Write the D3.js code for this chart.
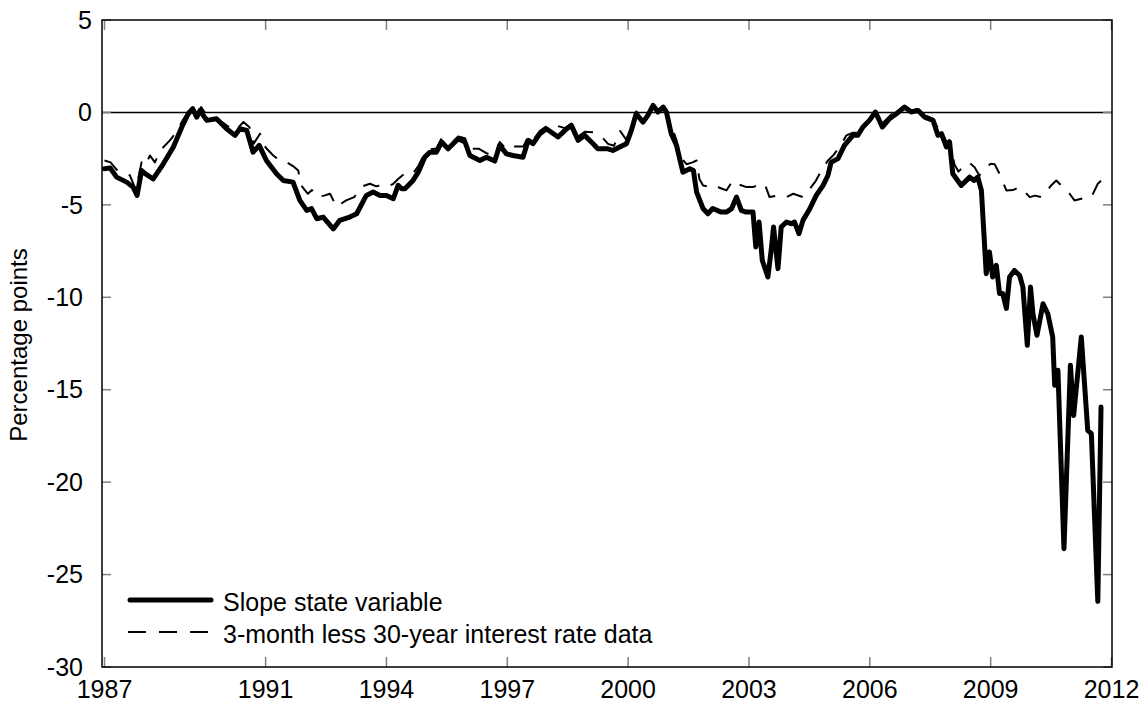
<!DOCTYPE html>
<html>
<head>
<meta charset="utf-8">
<script src="https://cdn.jsdelivr.net/npm/d3@7/dist/d3.min.js"></script>
<style>
  html, body { margin: 0; padding: 0; background: #fff; }
  svg { display: block; }
  text { font-family: "Liberation Sans", Arial, sans-serif; fill: #000; }
</style>
</head>
<body>
<svg id="chart" width="1142" height="702"></svg>
<script>
// ---------- DATA ----------
const slopeYears = [
  1987.0, 1987.14, 1987.3, 1987.55, 1987.71, 1987.81, 1987.92, 1988.0, 1988.21, 1988.46,
  1988.71, 1988.92, 1989.08, 1989.19, 1989.29, 1989.37, 1989.54, 1989.78, 1990.03, 1990.24,
  1990.36, 1990.53, 1990.69, 1990.84, 1991.02, 1991.27, 1991.44, 1991.68, 1991.85, 1992.02,
  1992.14, 1992.27, 1992.43, 1992.68, 1992.84, 1993.09, 1993.26, 1993.5, 1993.67, 1993.84,
  1994.0, 1994.17, 1994.29, 1994.38, 1994.46, 1994.66, 1994.79, 1994.95, 1995.08, 1995.24,
  1995.37, 1995.53, 1995.78, 1995.95, 1996.07, 1996.32, 1996.48, 1996.69, 1996.81, 1996.98,
  1997.14, 1997.39, 1997.52, 1997.64, 1997.81, 1997.97, 1998.26, 1998.43, 1998.59, 1998.76,
  1998.92, 1999.13, 1999.25, 1999.5, 1999.62, 1999.79, 1999.96, 2000.08, 2000.2, 2000.37,
  2000.49, 2000.62, 2000.74, 2000.87, 2000.95, 2001.07, 2001.2, 2001.36, 2001.53, 2001.62,
  2001.7, 2001.86, 2001.98, 2002.1, 2002.31, 2002.44, 2002.57, 2002.69, 2002.81, 2002.93,
  2003.1, 2003.17, 2003.25, 2003.33, 2003.47, 2003.56, 2003.61, 2003.72, 2003.8, 2003.93,
  2004.05, 2004.13, 2004.24, 2004.34, 2004.51, 2004.67, 2004.84, 2004.96, 2005.04, 2005.21,
  2005.37, 2005.58, 2005.7, 2005.83, 2005.99, 2006.14, 2006.31, 2006.49, 2006.66, 2006.86,
  2007.03, 2007.2, 2007.36, 2007.57, 2007.69, 2007.78, 2007.9, 2007.98, 2008.06, 2008.27,
  2008.48, 2008.59, 2008.68, 2008.77, 2008.89, 2008.97, 2009.05, 2009.14, 2009.22, 2009.3,
  2009.39, 2009.47, 2009.59, 2009.72, 2009.8, 2009.91, 2009.99, 2010.05, 2010.15, 2010.3,
  2010.42, 2010.54, 2010.59, 2010.67, 2010.82, 2010.98, 2011.06, 2011.25, 2011.41, 2011.5,
  2011.66, 2011.74
];
const slopeValues = [
  -3.05, -3.0, -3.5, -3.77, -4.04, -4.49, -3.14, -3.3, -3.6, -2.78,
  -1.87, -0.79, -0.07, 0.2, -0.25, 0.1, -0.43, -0.34, -0.88, -1.24,
  -0.88, -0.97, -2.15, -1.78, -2.6, -3.32, -3.68, -3.77, -4.76, -5.3,
  -5.2, -5.75, -5.66, -6.3, -5.84, -5.66, -5.48, -4.49, -4.31, -4.49,
  -4.49, -4.67, -3.95, -4.13, -4.13, -3.68, -3.23, -2.42, -2.15, -2.15,
  -1.6, -1.97, -1.42, -1.6, -2.33, -2.6, -2.42, -2.63, -1.78, -2.24,
  -2.33, -2.42, -1.51, -1.69, -1.15, -0.88, -1.33, -0.97, -0.7, -1.51,
  -1.24, -1.69, -1.97, -1.97, -2.06, -1.87, -1.69, -0.97, -0.07, -0.52,
  -0.16, 0.38, 0.02, 0.29, 0.02, -1.15, -1.78, -3.23, -3.05, -3.14,
  -4.31, -5.2, -5.48, -5.2, -5.39, -5.39, -5.2, -4.58, -5.3, -5.39,
  -5.39, -7.28, -5.93, -8.0, -8.9, -7.28, -6.2, -8.45, -6.2, -5.93,
  -6.02, -5.93, -6.56, -5.84, -5.21, -4.49, -3.95, -3.41, -2.69, -2.5,
  -1.78, -1.24, -1.24, -0.79, -0.43, 0.02, -0.79, -0.34, -0.07, 0.29,
  0.02, 0.11, -0.25, -0.43, -1.24, -1.15, -1.87, -1.6, -3.32, -3.95,
  -3.5, -3.68, -3.5, -4.22, -8.72, -7.55, -8.9, -8.27, -9.8, -9.8,
  -10.6, -8.9, -8.55, -8.82, -9.45, -12.6, -9.45, -10.9, -12.06, -10.35,
  -10.9, -12.15, -14.76, -13.95, -23.6, -13.68, -16.4, -12.15, -17.2, -17.38,
  -26.45, -15.94
];

const spreadYears = [
  1987.0, 1987.15, 1987.3, 1987.5, 1987.63, 1987.78, 1987.92, 1988.0, 1988.13, 1988.25,
  1988.42, 1988.63, 1988.8, 1988.95, 1989.1, 1989.2, 1989.3, 1989.4, 1989.55, 1989.78,
  1990.03, 1990.24, 1990.45, 1990.6, 1990.7, 1990.86, 1991.0, 1991.19, 1991.35, 1991.52,
  1991.68, 1991.81, 1991.88, 1992.05, 1992.15, 1992.27, 1992.45, 1992.6, 1992.76, 1992.9,
  1993.0, 1993.2, 1993.4, 1993.59, 1993.75, 1993.9, 1994.05, 1994.17, 1994.29, 1994.4,
  1994.5, 1994.66, 1994.79, 1994.95, 1995.08, 1995.24, 1995.37, 1995.5, 1995.65, 1995.78,
  1995.95, 1996.1, 1996.3, 1996.48, 1996.69, 1996.81, 1996.98, 1997.1, 1997.4, 1997.52,
  1997.64, 1997.81, 1998.0, 1998.2, 1998.43, 1998.59, 1998.76, 1998.92, 1999.13, 1999.35,
  1999.5, 1999.65, 1999.8, 1999.96, 2000.08, 2000.2, 2000.37, 2000.49, 2000.62, 2000.74,
  2000.87, 2000.95, 2001.07, 2001.2, 2001.3, 2001.45, 2001.6, 2001.7, 2001.77, 2001.86,
  2002.06, 2002.14, 2002.3, 2002.44, 2002.6, 2002.75, 2002.94, 2003.1, 2003.25, 2003.39,
  2003.51, 2003.75, 2003.93, 2004.1, 2004.34, 2004.51, 2004.66, 2004.8, 2004.96, 2005.1,
  2005.25, 2005.42, 2005.58, 2005.7, 2005.83, 2005.99, 2006.14, 2006.31, 2006.49, 2006.66,
  2006.86, 2007.03, 2007.2, 2007.36, 2007.57, 2007.7, 2007.78, 2007.9, 2007.98, 2008.1,
  2008.2, 2008.31, 2008.46, 2008.6, 2008.72, 2008.84, 2009.0, 2009.1, 2009.22, 2009.39,
  2009.55, 2009.72, 2009.85, 2009.97, 2010.1, 2010.26, 2010.35, 2010.5, 2010.63, 2010.75,
  2010.96, 2011.08, 2011.25, 2011.4, 2011.5, 2011.66, 2011.74
];
const spreadValues = [
  -2.6, -2.7, -3.1, -3.3, -3.4, -4.2, -2.7, -2.9, -2.33, -2.7,
  -1.97, -1.5, -1.0, -0.4, 0.1, 0.3, -0.1, 0.29, -0.2, -0.3,
  -0.7, -1.0, -0.52, -0.8, -1.7, -1.15, -1.9, -2.33, -2.6, -2.69,
  -2.9, -3.14, -3.95, -4.4, -4.2, -4.58, -4.5, -4.4, -5.1, -4.9,
  -4.76, -4.58, -4.0, -3.86, -4.0, -3.9, -4.0, -3.86, -3.6, -3.4,
  -3.23, -3.3, -2.9, -2.2, -2.0, -1.95, -1.4, -1.42, -1.6, -1.3,
  -1.4, -1.97, -1.97, -2.2, -2.4, -1.6, -2.0, -1.84, -1.84, -1.3,
  -1.5, -1.0, -0.7, -0.7, -0.85, -0.6, -1.3, -1.05, -1.07, -1.33,
  -1.7, -1.8, -1.0, -1.5, -0.8, 0.05, -0.4, -0.05, 0.45, 0.1,
  0.35, 0.1, -0.7, -1.5, -2.42, -2.8, -2.7, -2.6, -3.6, -3.95,
  -4.04, -3.95, -4.1, -4.22, -3.68, -3.9, -4.04, -4.04, -3.9, -3.86,
  -4.58, -4.49, -4.58, -4.4, -4.58, -4.13, -3.7, -3.14, -2.6, -2.3,
  -1.87, -1.24, -1.1, -1.1, -0.7, -0.35, 0.1, -0.6, -0.2, 0.15,
  0.35, 0.1, 0.2, -0.15, -0.35, -0.88, -1.0, -1.6, -1.5, -2.8,
  -3.2, -2.96, -2.7, -2.96, -3.41, -3.05, -2.78, -2.8, -3.32, -4.22,
  -4.2, -4.04, -4.3, -4.58, -4.5, -4.58, -4.4, -3.95, -3.68, -3.95,
  -4.4, -4.76, -4.67, -4.6, -4.58, -3.86, -3.7
];

const xTickValues = [1987, 1991, 1994, 1997, 2000, 2003, 2006, 2009, 2012];
const xTickLabels = ["1987", "1991", "1994", "1997", "2000", "2003", "2006", "2009", "2012"];
const yTickValues = [5, 0, -5, -10, -15, -20, -25, -30];
const yTickLabels = ["5", "0", "-5", "-10", "-15", "-20", "-25", "-30"];
const seriesNames = ["Slope state variable", "3-month less 30-year interest rate data"];
const yTitle = "Percentage points";

// ---------- CHART ----------
const svg = d3.select("#chart");
const pLeft = 102, pRight = 1112, pTop = 20, pBottom = 667;

const x = d3.scaleLinear().domain([1986.938, 2012]).range([pLeft, 1111.5]);
const y = d3.scaleLinear().domain([-30, 5]).range([pBottom, pTop]);

const slope = slopeYears.map((t, i) => ({ t, v: slopeValues[i] }));
const spread = spreadYears.map((t, i) => ({ t, v: spreadValues[i] }));

const line = d3.line().x(d => x(d.t)).y(d => y(d.v));

// zero line
svg.append("line")
  .attr("x1", pLeft).attr("x2", pRight)
  .attr("y1", y(0)).attr("y2", y(0))
  .attr("stroke", "#000").attr("stroke-width", 1.4);

// ticks (inward, grey) on all four sides
const tickG = svg.append("g").attr("stroke", "#808080").attr("stroke-width", 1.5);
xTickValues.forEach(v => {
  tickG.append("line").attr("x1", x(v)).attr("x2", x(v)).attr("y1", pBottom).attr("y2", pBottom - 10);
  tickG.append("line").attr("x1", x(v)).attr("x2", x(v)).attr("y1", pTop).attr("y2", pTop + 10);
});
yTickValues.forEach(v => {
  tickG.append("line").attr("x1", pLeft).attr("x2", pLeft + 9).attr("y1", y(v)).attr("y2", y(v));
  tickG.append("line").attr("x1", pRight).attr("x2", pRight - 9).attr("y1", y(v)).attr("y2", y(v));
});

// series
svg.append("path").datum(spread)
  .attr("d", line)
  .attr("fill", "none").attr("stroke", "#000")
  .attr("stroke-width", 2).attr("stroke-dasharray", "17,12")
  .attr("stroke-linejoin", "round");

svg.append("path").datum(slope)
  .attr("d", line)
  .attr("fill", "none").attr("stroke", "#000")
  .attr("stroke-width", 5).attr("stroke-linejoin", "round").attr("stroke-linecap", "round");

// frame
svg.append("rect")
  .attr("x", pLeft).attr("y", pTop)
  .attr("width", pRight - pLeft).attr("height", pBottom - pTop)
  .attr("fill", "none").attr("stroke", "#000").attr("stroke-width", 1.5);

// y labels
yTickValues.forEach((v, i) => {
  svg.append("text")
    .attr("x", v >= 0 ? 92 : 83)
    .attr("y", y(v))
    .attr("dy", "0.35em")
    .attr("text-anchor", "end")
    .attr("font-size", 25)
    .text(yTickLabels[i]);
});

// x labels
xTickValues.forEach((v, i) => {
  svg.append("text")
    .attr("x", x(v))
    .attr("y", 698)
    .attr("text-anchor", "middle")
    .attr("font-size", 25)
    .text(xTickLabels[i]);
});

// y title
svg.append("text")
  .attr("transform", "translate(27,345) rotate(-90)")
  .attr("text-anchor", "middle")
  .attr("font-size", 24)
  .text(yTitle);

// legend
const lg = svg.append("g");
lg.append("line").attr("x1", 130).attr("x2", 211).attr("y1", 600).attr("y2", 600)
  .attr("stroke", "#000").attr("stroke-width", 5).attr("stroke-linecap", "round");
lg.append("text").attr("x", 223).attr("y", 611).attr("font-size", 25).text(seriesNames[0]);
lg.append("line").attr("x1", 128).attr("x2", 212).attr("y1", 632).attr("y2", 632)
  .attr("stroke", "#000").attr("stroke-width", 2).attr("stroke-dasharray", "18,13");
lg.append("text").attr("x", 223).attr("y", 643).attr("font-size", 25).text(seriesNames[1]);
</script>
</body>
</html>
